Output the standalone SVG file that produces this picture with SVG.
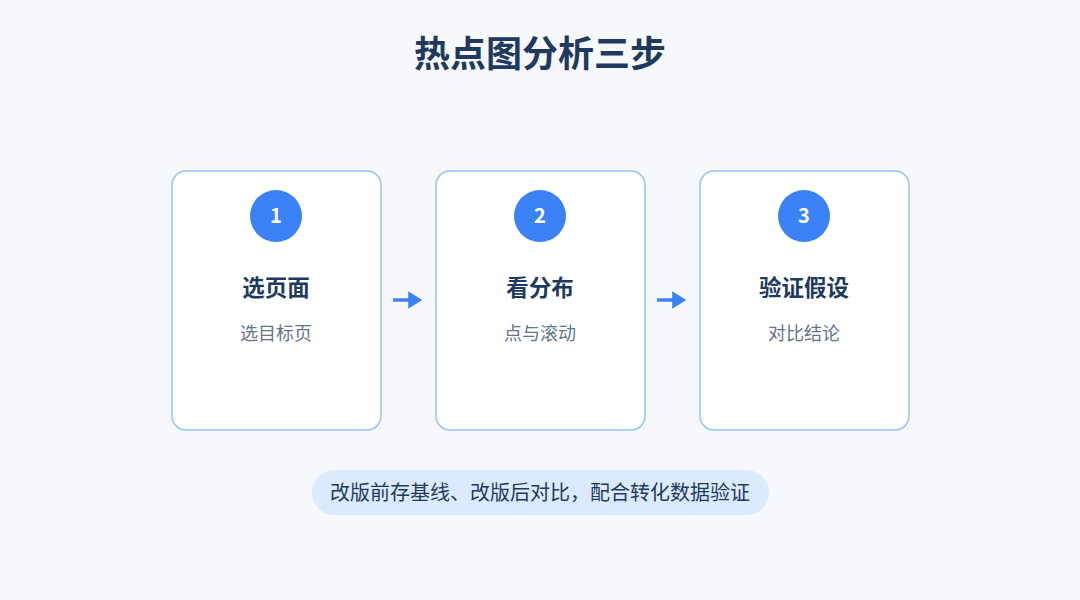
<svg xmlns="http://www.w3.org/2000/svg" width="1080" height="600" viewBox="0 0 1080 600">
<style>
text{font-family:"Noto Sans CJK SC","Noto Sans",sans-serif;text-anchor:middle}
.card{fill:#fff;stroke:#93c5fd;stroke-width:1.5}
.num{fill:#fff;font-size:20px;font-weight:700}
.t{fill:#1e3a5f;font-size:22.5px;font-weight:700}
.s{fill:#64748b;font-size:18px}
.c{fill:#3b82f6}
</style>
<defs><marker id="a" markerWidth="5" markerHeight="5" refX="0.5" refY="2.5" orient="auto" markerUnits="strokeWidth"><path d="M0,0L4,2.5L0,5z" fill="#3b82f6"/></marker></defs>
<rect width="1080" height="600" fill="#f6f8fc"/>
<text x="540" y="67" font-size="36" font-weight="700" fill="#1e3a5f">热点图分析三步</text>
<g id="n1"><rect class="card" x="172" y="171" width="209" height="259" rx="14"/><circle class="c" cx="276" cy="216" r="26"/><text class="num" x="276" y="223">1</text><text class="t" x="276" y="296">选页面</text><text class="s" x="276" y="340">选目标页</text></g>
<g id="n2"><rect class="card" x="436" y="171" width="209" height="259" rx="14"/><circle class="c" cx="540" cy="216" r="26"/><text class="num" x="540" y="223">2</text><text class="t" x="540" y="296">看分布</text><text class="s" x="540" y="340">点与滚动</text></g>
<g id="n3"><rect class="card" x="700" y="171" width="209" height="259" rx="14"/><circle class="c" cx="804" cy="216" r="26"/><text class="num" x="804" y="223">3</text><text class="t" x="804" y="296">验证假设</text><text class="s" x="804" y="340">对比结论</text></g>
<g id="connectors" stroke="#3b82f6" stroke-width="3.5">
<line x1="393" y1="300" x2="410" y2="300" marker-end="url(#a)"/>
<line x1="657" y1="300" x2="674" y2="300" marker-end="url(#a)"/>
</g>
<g id="note"><rect x="312" y="470" width="457" height="45" rx="22.5" fill="#dbeafe"/><text x="540" y="500" font-size="20" fill="#1e3a5f">改版前存基线、改版后对比，配合转化数据验证</text></g>
</svg>
